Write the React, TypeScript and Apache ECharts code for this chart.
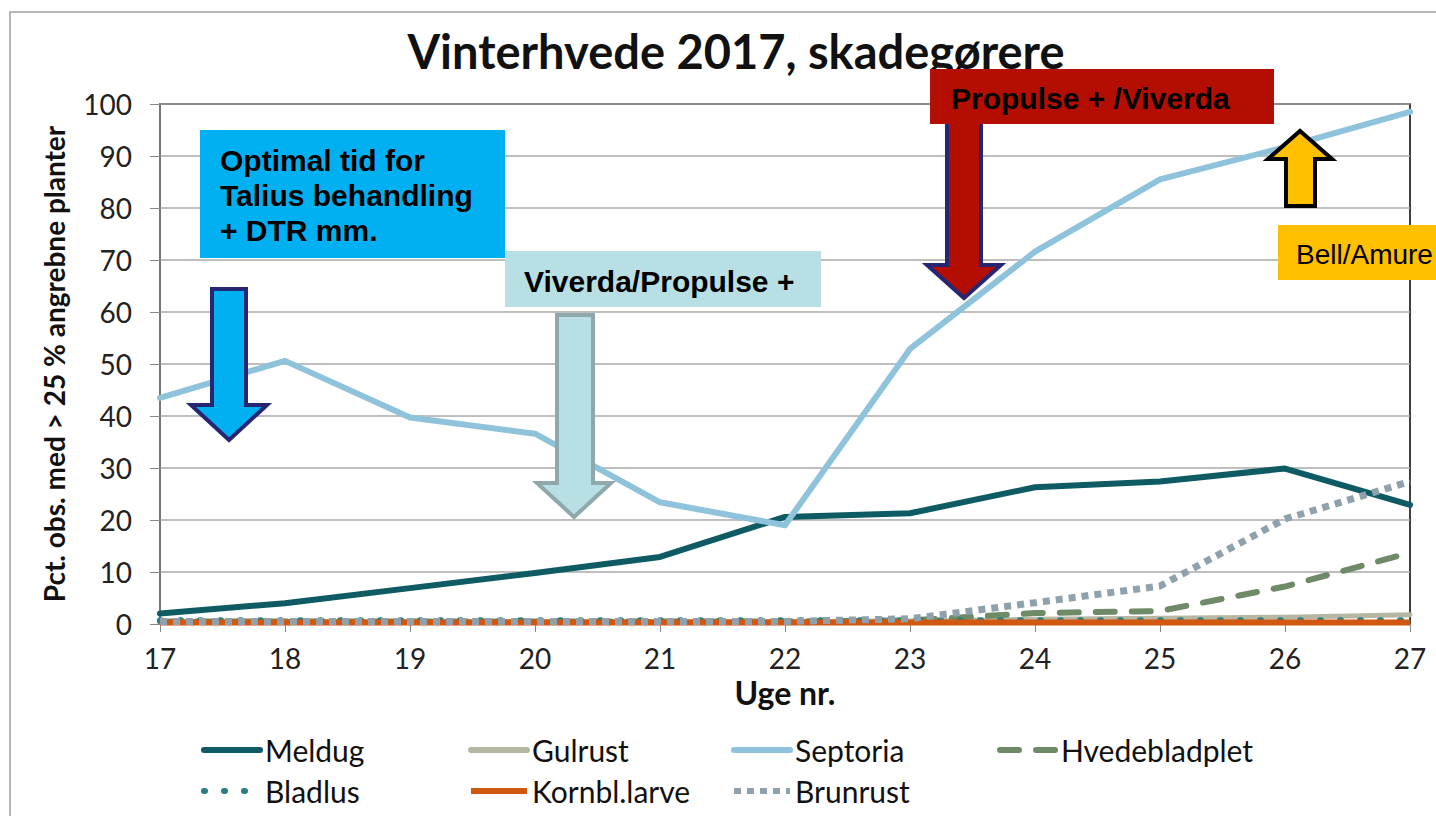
import React, { useEffect, useRef } from "react";
import * as echarts from "echarts";

const weeks = [17, 18, 19, 20, 21, 22, 23, 24, 25, 26, 27];
const meldug = [2, 4, 6.9, 9.8, 12.9, 20.6, 21.3, 26.3, 27.4, 29.9, 22.9];
const gulrust = [0.5, 0.5, 0.5, 0.5, 0.5, 0.5, 0.6, 0.9, 1.1, 1.3, 1.8];
const septoria = [43.5, 50.6, 39.7, 36.6, 23.4, 19.0, 52.9, 71.6, 85.5, 91.7, 98.5];
const hvedebladplet = [0.5, 0.5, 0.5, 0.5, 0.5, 0.5, 0.7, 2.1, 2.5, 7.2, 13.7];
const bladlus = [0.7, 0.7, 0.7, 0.7, 0.7, 0.7, 0.7, 0.7, 0.7, 0.7, 0.7];
const kornblLarve = [0.3, 0.3, 0.3, 0.3, 0.3, 0.3, 0.3, 0.3, 0.3, 0.3, 0.3];
const brunrust = [0.5, 0.5, 0.5, 0.5, 0.5, 0.5, 1.0, 4.1, 7.3, 20.2, 27.4];

const seriesNames = ["Meldug", "Gulrust", "Septoria", "Hvedebladplet", "Bladlus", "Kornbl.larve", "Brunrust"];

const TITLE = "Vinterhvede 2017, skadegørere";
const Y_NAME = "Pct. obs. med > 25 % angrebne planter";
const X_NAME = "Uge nr.";

const pairs = (vals: number[]) => weeks.map((w, i) => [w, vals[i]]);

export default function App() {
  const ref = useRef<HTMLDivElement>(null);
  useEffect(() => {
    if (!ref.current) return;
    const chart = echarts.init(ref.current, undefined, { renderer: "svg" });
    const mk = (name: string, data: number[], color: string, width: number, type: any, cap: string, z: number) => ({
      name,
      type: "line",
      data: pairs(data),
      symbol: "none",
      z,
      lineStyle: { color, width, type, cap, join: "round" },
      itemStyle: { color },
    });
    const legendPos: [number, number][] = [
      [201, 735], [468, 735], [731, 735], [997, 735],
      [201, 776], [468, 776], [731, 776],
    ];
    const legends = seriesNames.map((n, i) => ({
      data: [n],
      left: legendPos[i][0],
      top: legendPos[i][1],
      itemWidth: 56,
      itemHeight: 14,
      itemGap: 0,
      padding: 0,
      textStyle: { fontFamily: "Lato", fontSize: 30, color: "#111" },
      lineStyle: { width: 6 },
      itemStyle: { color: "transparent", borderWidth: 0, opacity: 0 },
    }));
    const FONT_B = "bold 30px 'Liberation Sans', Arial, sans-serif";
    const txt = (text: string, x: number, y: number, font: string, fill = "#000") => ({
      type: "text",
      x,
      y,
      z: 110,
      style: { text, font, fill, align: "left", verticalAlign: "middle", textAlign: "left", textVerticalAlign: "middle" },
    });
    const arrowDown = (sx1: number, sx2: number, top: number, hb: number, hx1: number, hx2: number, tipY: number) => [
      [sx1, top], [sx2, top], [sx2, hb], [hx2, hb], [(hx1 + hx2) / 2, tipY], [hx1, hb], [sx1, hb],
    ];
    const option: any = {
      animation: false,
      backgroundColor: "#fff",
      title: {
        text: TITLE,
        left: 731,
        textAlign: "center",
        top: 22,
        textStyle: { fontFamily: "Lato", fontWeight: "bold", fontSize: 47, color: "#111" },
      },
      legend: legends,
      grid: { left: 160, right: 26, top: 104, bottom: 192, show: true, borderColor: "#000", borderWidth: 1.5 },
      xAxis: {
        type: "value",
        min: 17,
        max: 27,
        interval: 1,
        name: X_NAME,
        nameLocation: "middle",
        nameGap: 52,
        nameTextStyle: { fontFamily: "Lato", fontWeight: "bold", fontSize: 32, color: "#111" },
        axisLine: { show: true, lineStyle: { color: "#888", width: 1.5 } },
        axisTick: { show: true, length: 8, lineStyle: { color: "#888" } },
        axisLabel: { fontFamily: "Lato", fontSize: 28, color: "#222", margin: 20 },
        splitLine: { show: false },
      },
      yAxis: {
        type: "value",
        min: 0,
        max: 100,
        interval: 10,
        name: Y_NAME,
        nameLocation: "middle",
        nameGap: 92,
        nameTextStyle: { fontFamily: "Lato", fontWeight: "bold", fontSize: 28, color: "#111" },
        axisLine: { show: true, lineStyle: { color: "#888", width: 1.5 } },
        axisTick: { show: true, length: 10, lineStyle: { color: "#888" } },
        axisLabel: { fontFamily: "Lato", fontSize: 28, color: "#222", margin: 28 },
        splitLine: { show: true, lineStyle: { color: "#a8a8a8", width: 1.5 } },
      },
      series: [
        mk("Meldug", meldug, "#0e5b63", 6, "solid", "round", 2),
        mk("Gulrust", gulrust, "#b5b7a3", 5, "solid", "round", 3),
        mk("Septoria", septoria, "#8fc3dc", 6, "solid", "round", 4),
        mk("Hvedebladplet", hvedebladplet, "#6e8a67", 6, [19, 17], "round", 5),
        mk("Bladlus", bladlus, "#2a7e84", 6, [1, 19], "round", 6),
        mk("Kornbl.larve", kornblLarve, "#d2570f", 6, "solid", "butt", 7),
        mk("Brunrust", brunrust, "#8ea1ac", 7, [7, 6], "butt", 8),
      ],
      graphic: [
        { type: "rect", z: 0, silent: true, shape: { x: 10, y: 12, width: 1500, height: 900 }, style: { fill: "none", stroke: "#a0a0a0", lineWidth: 1.5 } },
        // blue box + arrow
        { type: "rect", z: 100, shape: { x: 200, y: 130, width: 305, height: 128 }, style: { fill: "#00b0f0" } },
        txt("Optimal tid for", 220, 160, FONT_B),
        txt("Talius behandling", 220, 195, FONT_B),
        txt("+ DTR mm.", 220, 230, FONT_B),
        { type: "polygon", z: 100, shape: { points: arrowDown(212, 246, 289, 405, 191, 267, 440) }, style: { fill: "#00b0f0", stroke: "#262673", lineWidth: 4, lineJoin: "miter" } },
        // light box + arrow
        { type: "rect", z: 100, shape: { x: 505, y: 251, width: 316, height: 56 }, style: { fill: "#b7dfe4" } },
        txt("Viverda/Propulse +", 524, 281, FONT_B),
        { type: "polygon", z: 100, shape: { points: arrowDown(557, 593, 315, 483, 537, 611, 517) }, style: { fill: "#b7dfe4", stroke: "#8fa8ab", lineWidth: 4, lineJoin: "miter" } },
        // red arrow + box
        { type: "polygon", z: 100, shape: { points: arrowDown(947, 981, 118, 265, 927, 1001, 298) }, style: { fill: "#b40e02", stroke: "#262673", lineWidth: 4, lineJoin: "miter" } },
        { type: "rect", z: 101, shape: { x: 930, y: 69, width: 344, height: 55 }, style: { fill: "#b40e02" } },
        txt("Propulse + /Viverda", 951, 98, FONT_B),
        // yellow arrow + box
        { type: "polygon", z: 100, shape: { points: [[1286, 206], [1315, 206], [1315, 159], [1332, 159], [1300, 131], [1268, 159], [1286, 159]] }, style: { fill: "#ffc000", stroke: "#000", lineWidth: 4, lineJoin: "miter" } },
        { type: "rect", z: 100, shape: { x: 1278, y: 225, width: 200, height: 55 }, style: { fill: "#ffc000" } },
        txt("Bell/Amure", 1296, 254, "28px 'Liberation Sans', Arial, sans-serif"),
      ],
    };
    chart.setOption(option);
    return () => chart.dispose();
  }, []);
  return <div ref={ref} style={{ position: "fixed", left: 0, top: 0, width: 1436, height: 816 }} />;
}
